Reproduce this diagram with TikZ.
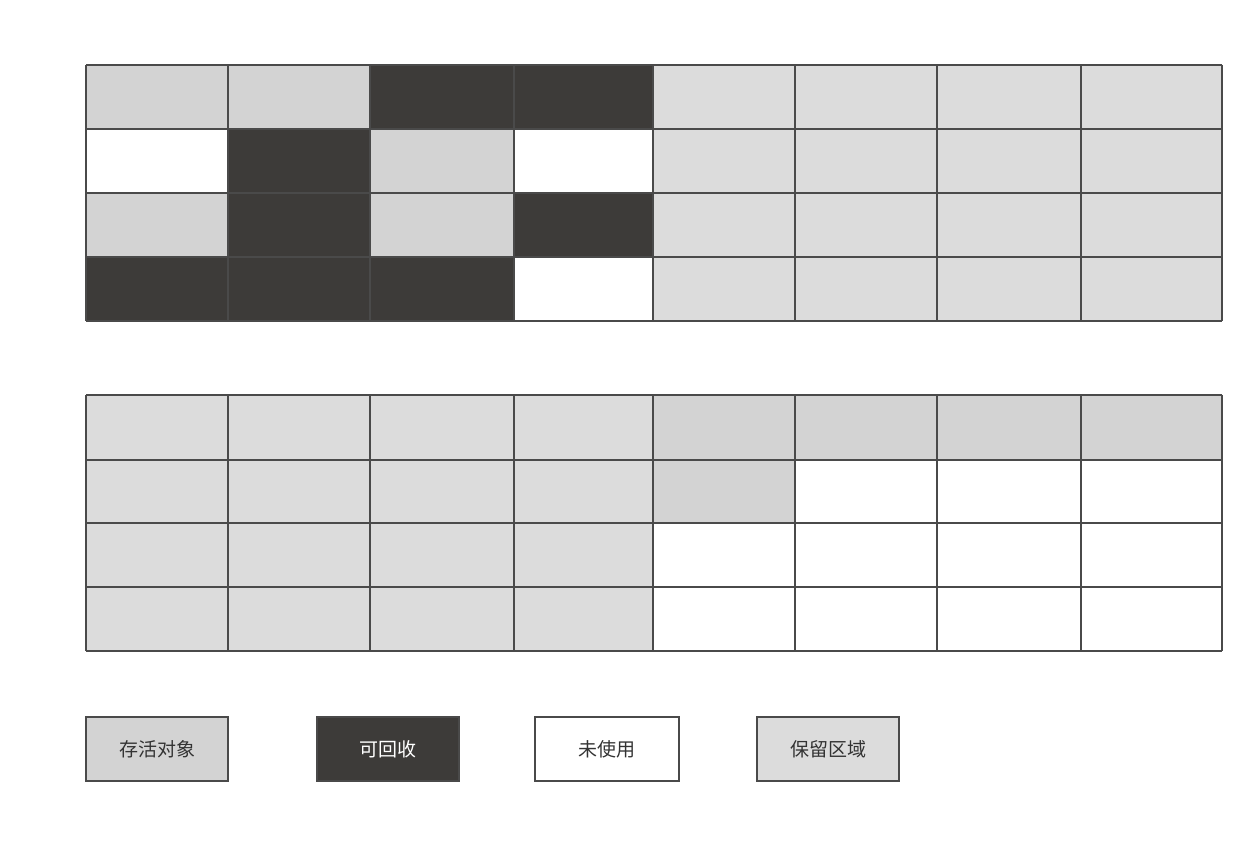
\documentclass[tikz,border=0pt]{standalone}
\usepackage{fontspec}
\newfontfamily\cjk{Noto Sans CJK SC}
\definecolor{surv}{HTML}{D3D3D3}
\definecolor{resv}{HTML}{DCDCDC}
\definecolor{dead}{HTML}{3D3B39}
\definecolor{edge}{HTML}{4A4A4A}
\begin{document}
\begin{tikzpicture}[x=1pt,y=-1pt,
  cellline/.style={draw=edge,line width=1.4pt},
  legendbox/.style={draw=edge,line width=1.4pt,minimum width=142pt,minimum height=64pt,inner sep=0pt,font=\cjk\fontsize{19}{22}\selectfont,text=black!80},
  S/.style={fill=surv},R/.style={fill=resv},D/.style={fill=dead},W/.style={fill=white}]
\useasboundingbox (0,0) rectangle (1240,866);
\fill[white] (0,0) rectangle (1240,866);
\def\xs{{86,228,370,514,653,795,937,1081,1222}}
% top grid
\def\topy{65}
\foreach \r/\row in {0/{S,S,D,D,R,R,R,R},1/{W,D,S,W,R,R,R,R},2/{S,D,S,D,R,R,R,R},3/{D,D,D,W,R,R,R,R}}{
  \foreach \c [count=\i from 0] in \row {
    \pgfmathsetmacro\xa{\xs[\i]}\pgfmathsetmacro\xb{\xs[\i+1]}
    \fill[\c] (\xa,{65+64*\r}) rectangle (\xb,{65+64*(\r+1)});
  }
}
\foreach \r/\row in {0/{R,R,R,R,S,S,S,S},1/{R,R,R,R,S,W,W,W},2/{R,R,R,R,W,W,W,W},3/{R,R,R,R,W,W,W,W}}{
  \foreach \c [count=\i from 0] in \row {
    \pgfmathsetmacro\xa{\xs[\i]}\pgfmathsetmacro\xb{\xs[\i+1]}
    \fill[\c] (\xa,{395+64*\r}) rectangle (\xb,{395+64*(\r+1)});
  }
}
% grid lines
\foreach \x in {86,228,370,514,653,795,937,1081,1222}{
  \draw[cellline] (\x,65) -- (\x,321);
  \draw[cellline] (\x,395) -- (\x,651);
}
\foreach \y in {65,129,193,257,321}{\draw[cellline] (86,\y) -- (1222,\y);}
\foreach \y in {395,460,523,587,651}{\draw[cellline] (86,\y) -- (1222,\y);}
% legend
\node[legendbox,fill=surv] (lsurv) at (157,749) {存活对象};
\node[legendbox,fill=dead,text=white] (ldead) at (388,749) {可回收};
\node[legendbox,fill=white,minimum width=144pt] (lfree) at (607,749) {未使用};
\node[legendbox,fill=resv] (lresv) at (828,749) {保留区域};
\end{tikzpicture}
\end{document}
